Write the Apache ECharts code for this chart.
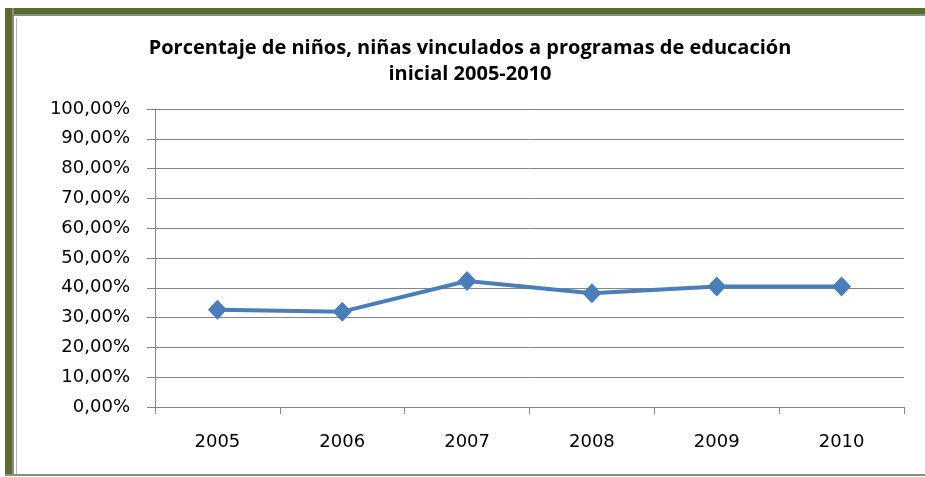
<!DOCTYPE html>
<html>
<head>
<meta charset="utf-8">
<script src="https://cdn.jsdelivr.net/npm/echarts@6/dist/echarts.min.js"></script>
<style>
  html, body { margin: 0; padding: 0; background: #fff; }
  #wrap { position: relative; width: 925px; height: 477px; overflow: hidden; }
  #chart { position: absolute; left: 0; top: 0; width: 925px; height: 477px; }
  .bar-top { position: absolute; left: 5px; top: 8px; width: 920px; height: 6px; background: #5a6b2f; border-bottom: 2px solid #8a8f80; }
  .bar-left { position: absolute; left: 5px; top: 8px; width: 7px; height: 468px; background: #5a6b2f; border-right: 2px solid #8a8f80; }
  .line-in { position: absolute; left: 16px; top: 18px; width: 1px; height: 457px; background: #b8b8b8; }
  .bar-bottom { position: absolute; left: 5px; top: 474px; width: 920px; height: 2px; background: #8a9078; }
</style>
</head>
<body>
<div id="wrap">
  <div id="chart"></div>
  <div class="bar-top"></div>
  <div class="bar-left"></div>
  <div class="line-in"></div>
  <div class="bar-bottom"></div>
</div>
<script>
// datos
const anios = ['2005', '2006', '2007', '2008', '2009', '2010'];
const porcentajes = [0.326, 0.320, 0.423, 0.382, 0.404, 0.404];
const titulo = 'Porcentaje de niños, niñas vinculados a programas de educación\ninicial 2005-2010';

const chart = echarts.init(document.getElementById('chart'));

const gris = '#868686';

chart.setOption({
  backgroundColor: '#fff',
  animation: false,
  title: {
    text: titulo,
    left: 465,
    textAlign: 'center',
    top: 30,
    textStyle: {
      fontFamily: 'Open Sans',
      fontWeight: 'bold',
      fontSize: 20,
      lineHeight: 26,
      color: '#000'
    }
  },
  grid: {
    left: 155,
    right: 21,
    top: 109,
    bottom: 70,
    containLabel: false
  },
  xAxis: {
    type: 'category',
    data: anios,
    boundaryGap: true,
    axisLine: { lineStyle: { color: gris, width: 1 } },
    axisTick: { show: true, length: 7, lineStyle: { color: gris } },
    axisLabel: {
      margin: 26,
      fontFamily: 'DejaVu Sans',
      fontSize: 18,
      color: '#000'
    }
  },
  yAxis: {
    type: 'value',
    min: 0,
    max: 1,
    interval: 0.1,
    axisLine: { show: true, lineStyle: { color: gris, width: 1 } },
    axisTick: { show: true, length: 8, lineStyle: { color: gris } },
    splitLine: { show: true, lineStyle: { color: gris, width: 1 } },
    axisLabel: {
      margin: 25,
      fontFamily: 'DejaVu Sans',
      fontSize: 18,
      color: '#000',
      formatter: v => (v * 100).toFixed(2).replace('.', ',') + '%'
    }
  },
  series: [{
    type: 'line',
    data: porcentajes,
    symbol: 'diamond',
    symbolSize: [19, 20],
    showAllSymbol: true,
    lineStyle: { color: '#4a7ebb', width: 4 },
    itemStyle: { color: '#4a7ebb' }
  }]
});
</script>
</body>
</html>
